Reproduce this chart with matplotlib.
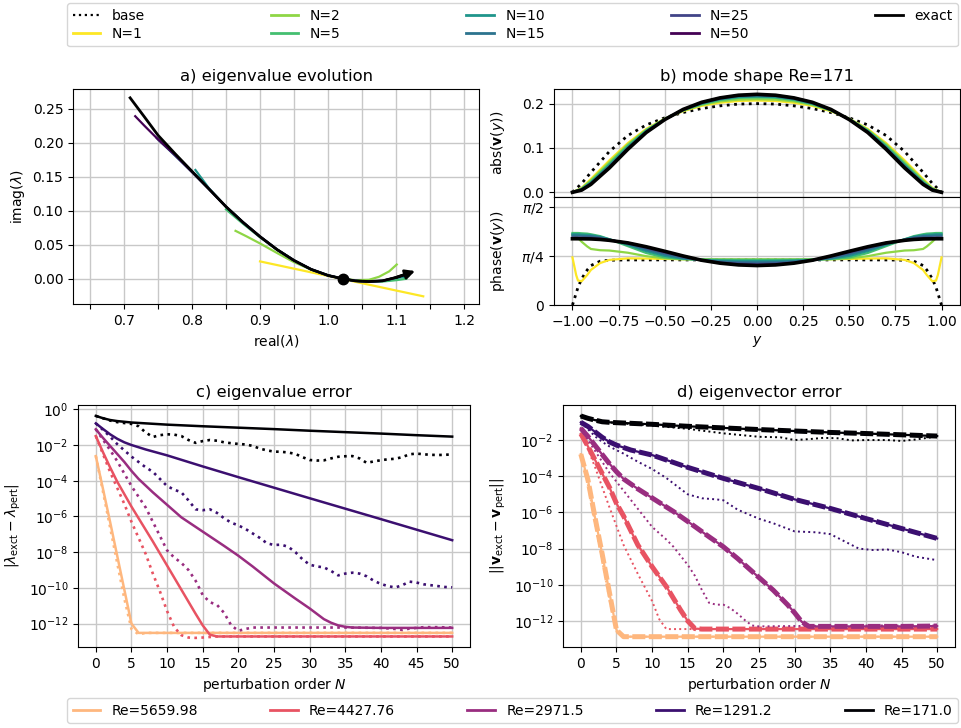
import numpy as np
import matplotlib
matplotlib.use("Agg")
import matplotlib.pyplot as plt
from matplotlib.lines import Line2D
from matplotlib.ticker import NullLocator, FixedLocator

plt.rcParams['font.family'] = ['DejaVu Sans']
plt.rcParams['font.size'] = 10
plt.rcParams['mathtext.fontset'] = 'dejavusans'

# ---------------- legend / colour data ----------------
N_orders = [1, 2, 5, 10, 15, 25, 50]
N_cpos = [1.0, 0.83, 0.7, 0.52, 0.38, 0.2, 0.0]
Re_values = [5659.98, 4427.76, 2971.5, 1291.2, 171.0]
Re_cpos = [0.85, 0.63, 0.43, 0.2, 0.0]

# ---------------- panel a: eigenvalue evolution ----------------
exact_re = [0.709, 0.73, 0.75, 0.775, 0.80, 0.825, 0.85, 0.875, 0.90, 0.925, 0.95, 0.975, 1.0, 1.022, 1.04, 1.06, 1.08, 1.10, 1.112]
exact_im = [0.266, 0.238, 0.211, 0.184, 0.158, 0.132, 0.106, 0.083, 0.062, 0.043, 0.027, 0.014, 0.005, 0.0, -0.003, -0.004, -0.003, 0.002, 0.006]
arrow_tail = (1.100, 0.0020)
arrow_head = (1.128, 0.0115)
base_re = 1.022
base_im = 0.0

a_N1_re = [0.90, 1.14]
a_N1_im = [0.0256, -0.0257]
a_N2_re = [0.864, 0.88, 0.90, 0.925, 0.95, 0.975, 1.0, 1.022, 1.04, 1.06, 1.075, 1.09, 1.101]
a_N2_im = [0.0705, 0.0625, 0.052, 0.038, 0.0245, 0.0135, 0.005, 0.0, -0.002, -0.0015, 0.003, 0.011, 0.021]
a_N5_re = [0.85, 0.875, 0.90, 0.925, 0.95, 0.975, 1.0, 1.022, 1.04, 1.06, 1.08, 1.10, 1.115]
a_N5_im = [0.102, 0.081, 0.061, 0.043, 0.027, 0.014, 0.005, 0.0, -0.003, -0.004, -0.004, -0.002, 0.0]
a_N10_re = [0.805, 0.825, 0.85, 0.875, 0.90, 0.925, 0.95, 0.975, 1.0, 1.022, 1.04, 1.06, 1.08, 1.10, 1.118]
a_N10_im = [0.160, 0.133, 0.106, 0.083, 0.062, 0.043, 0.027, 0.014, 0.005, 0.0, -0.003, -0.004, -0.003, 0.001, 0.004]
a_N15_re = [0.75, 0.775, 0.80, 0.825, 0.85, 0.875, 0.90, 0.925, 0.95, 0.975, 1.0, 1.022, 1.04, 1.06, 1.08, 1.10, 1.12]
a_N15_im = [0.205, 0.181, 0.157, 0.132, 0.106, 0.083, 0.062, 0.043, 0.027, 0.014, 0.005, 0.0, -0.003, -0.004, -0.003, 0.002, 0.007]
a_N25_re = [0.748, 0.775, 0.80, 0.825, 0.85, 0.875, 0.90, 0.925, 0.95, 0.975, 1.0, 1.022, 1.04, 1.06, 1.08, 1.10, 1.12]
a_N25_im = [0.207, 0.182, 0.157, 0.132, 0.106, 0.083, 0.062, 0.043, 0.027, 0.014, 0.005, 0.0, -0.003, -0.004, -0.003, 0.002, 0.008]
a_N50_re = [0.7165, 0.73, 0.75, 0.775, 0.80, 0.825, 0.85, 0.875, 0.90, 0.925, 0.95, 0.975, 1.0, 1.022, 1.04, 1.06, 1.08, 1.10, 1.12]
a_N50_im = [0.239, 0.225, 0.205, 0.182, 0.157, 0.132, 0.106, 0.083, 0.062, 0.043, 0.027, 0.014, 0.005, 0.0, -0.003, -0.004, -0.003, 0.002, 0.008]

# ---------------- panel b: mode shape ----------------
y_abs = [-1.0, -0.95, -0.9, -0.8, -0.7, -0.6, -0.5, -0.4, -0.3, -0.2, -0.1, 0.0, 0.1, 0.2, 0.3, 0.4, 0.5, 0.6, 0.7, 0.8, 0.9, 0.95, 1.0]
abs_base = [0.000, 0.020, 0.045, 0.092, 0.128, 0.152, 0.168, 0.180, 0.189, 0.195, 0.199, 0.200, 0.199, 0.195, 0.189, 0.180, 0.168, 0.152, 0.128, 0.092, 0.045, 0.020, 0.000]
abs_N1 = [0.000, 0.010, 0.030, 0.072, 0.111, 0.143, 0.166, 0.183, 0.195, 0.202, 0.206, 0.207, 0.206, 0.202, 0.195, 0.183, 0.166, 0.143, 0.111, 0.072, 0.030, 0.010, 0.000]
abs_N2 = [0.000, 0.009, 0.027, 0.068, 0.108, 0.141, 0.166, 0.184, 0.197, 0.205, 0.209, 0.210, 0.209, 0.205, 0.197, 0.184, 0.166, 0.141, 0.108, 0.068, 0.027, 0.009, 0.000]
abs_N5 = [0.000, 0.008, 0.024, 0.064, 0.105, 0.140, 0.165, 0.185, 0.199, 0.208, 0.213, 0.214, 0.213, 0.208, 0.199, 0.185, 0.165, 0.140, 0.105, 0.064, 0.024, 0.008, 0.000]
abs_N10 = [0.000, 0.007, 0.022, 0.061, 0.102, 0.138, 0.165, 0.186, 0.200, 0.210, 0.215, 0.216, 0.215, 0.210, 0.200, 0.186, 0.165, 0.138, 0.102, 0.061, 0.022, 0.007, 0.000]
abs_N15 = [0.000, 0.006, 0.021, 0.059, 0.100, 0.137, 0.165, 0.186, 0.201, 0.211, 0.217, 0.218, 0.217, 0.211, 0.201, 0.186, 0.165, 0.137, 0.100, 0.059, 0.021, 0.006, 0.000]
abs_N25 = [0.000, 0.006, 0.019, 0.057, 0.099, 0.136, 0.164, 0.186, 0.202, 0.212, 0.218, 0.220, 0.218, 0.212, 0.202, 0.186, 0.164, 0.136, 0.099, 0.057, 0.019, 0.006, 0.000]
abs_N50 = [0.000, 0.005, 0.018, 0.056, 0.098, 0.135, 0.164, 0.187, 0.203, 0.213, 0.219, 0.220, 0.219, 0.213, 0.203, 0.187, 0.164, 0.135, 0.098, 0.056, 0.018, 0.005, 0.000]
abs_exact = [0.000, 0.005, 0.018, 0.055, 0.097, 0.135, 0.164, 0.187, 0.203, 0.213, 0.219, 0.221, 0.219, 0.213, 0.203, 0.187, 0.164, 0.135, 0.097, 0.055, 0.018, 0.005, 0.000]

y_ph = [-1.0, -0.99, -0.98, -0.97, -0.95, -0.92, -0.9, -0.85, -0.8, -0.7, -0.6, -0.5, -0.4, -0.3, -0.2, -0.1, 0.0,
        0.1, 0.2, 0.3, 0.4, 0.5, 0.6, 0.7, 0.8, 0.85, 0.9, 0.92, 0.95, 0.97, 0.98, 0.99, 1.0]
ph_base = [0.0, 0.09, 0.19, 0.28, 0.42, 0.56, 0.63, 0.70, 0.715, 0.72, 0.72, 0.72, 0.72, 0.72, 0.72, 0.72, 0.72, 0.72, 0.72, 0.72, 0.72, 0.72, 0.72, 0.72, 0.715, 0.70, 0.63, 0.56, 0.42, 0.28, 0.19, 0.09, 0.0]
ph_N1 = [0.76, 0.62, 0.48, 0.39, 0.38, 0.48, 0.56, 0.67, 0.72, 0.745, 0.742, 0.736, 0.732, 0.73, 0.728, 0.727, 0.727, 0.727, 0.728, 0.73, 0.732, 0.736, 0.742, 0.745, 0.72, 0.67, 0.56, 0.48, 0.38, 0.39, 0.48, 0.62, 0.76]
ph_N2 = [1.12, 1.11, 1.10, 1.07, 1.01, 0.935, 0.895, 0.875, 0.87, 0.835, 0.78, 0.745, 0.73, 0.726, 0.725, 0.725, 0.725, 0.725, 0.725, 0.726, 0.73, 0.745, 0.78, 0.835, 0.87, 0.875, 0.895, 0.935, 1.01, 1.07, 1.10, 1.11, 1.12]
ph_N5 = [1.15, 1.15, 1.15, 1.15, 1.145, 1.14, 1.13, 1.10, 1.05, 0.94, 0.83, 0.76, 0.735, 0.728, 0.725, 0.724, 0.724, 0.724, 0.725, 0.728, 0.735, 0.76, 0.83, 0.94, 1.05, 1.10, 1.13, 1.14, 1.145, 1.15, 1.15, 1.15, 1.15]
ph_N10 = [1.13, 1.13, 1.13, 1.13, 1.125, 1.12, 1.115, 1.09, 1.05, 0.96, 0.86, 0.785, 0.74, 0.72, 0.71, 0.705, 0.703, 0.705, 0.71, 0.72, 0.74, 0.785, 0.86, 0.96, 1.05, 1.09, 1.115, 1.12, 1.125, 1.13, 1.13, 1.13, 1.13]
ph_N15 = [1.11, 1.11, 1.11, 1.11, 1.105, 1.10, 1.10, 1.08, 1.045, 0.975, 0.885, 0.81, 0.75, 0.715, 0.695, 0.685, 0.682, 0.685, 0.695, 0.715, 0.75, 0.81, 0.885, 0.975, 1.045, 1.08, 1.10, 1.10, 1.105, 1.11, 1.11, 1.11, 1.11]
ph_N25 = [1.08, 1.08, 1.08, 1.08, 1.078, 1.076, 1.075, 1.06, 1.04, 0.985, 0.91, 0.835, 0.77, 0.715, 0.68, 0.662, 0.656, 0.662, 0.68, 0.715, 0.77, 0.835, 0.91, 0.985, 1.04, 1.06, 1.075, 1.076, 1.078, 1.08, 1.08, 1.08, 1.08]
ph_N50 = [1.062, 1.062, 1.062, 1.062, 1.061, 1.06, 1.058, 1.05, 1.035, 0.993, 0.928, 0.855, 0.782, 0.716, 0.672, 0.645, 0.637, 0.645, 0.672, 0.716, 0.782, 0.855, 0.928, 0.993, 1.035, 1.05, 1.058, 1.06, 1.061, 1.062, 1.062, 1.062, 1.062]
ph_exact = [1.058, 1.058, 1.058, 1.058, 1.057, 1.056, 1.055, 1.047, 1.033, 0.992, 0.93, 0.858, 0.783, 0.715, 0.668, 0.64, 0.63, 0.64, 0.668, 0.715, 0.783, 0.858, 0.93, 0.992, 1.033, 1.047, 1.055, 1.056, 1.057, 1.058, 1.058, 1.058, 1.058]

# ---------------- panel c: eigenvalue error (log10 of error) ----------------
c_sol_5660_N = [0, 1, 2, 3, 4, 5, 6, 50]
c_sol_5660 = [-2.62, -4.45, -6.3, -8.2, -10.1, -12.0, -12.52, -12.52]
c_dot_5660_N = [0, 1, 2, 3, 4, 5, 6, 7, 50]
c_dot_5660 = [-2.62, -4.6, -6.6, -8.6, -10.6, -12.3, -12.6, -12.52, -12.52]
c_sol_4428_N = [0, 1, 2, 3, 4, 5, 6, 8, 10, 12, 14, 15, 16, 17, 50]
c_sol_4428 = [-1.5, -2.4, -3.25, -4.05, -4.75, -5.45, -6.1, -7.4, -8.75, -10.1, -11.45, -12.1, -12.62, -12.72, -12.72]
c_dot_4428_N = [0, 1, 2, 3, 4, 5, 6, 7, 8, 9, 10, 11, 12, 13, 14, 15, 16, 17, 50]
c_dot_4428 = [-1.5, -2.5, -3.5, -4.4, -5.3, -6.3, -7.2, -8.1, -9.2, -10.2, -11.3, -12.2, -12.65, -12.78, -12.8, -12.78, -12.75, -12.72, -12.72]
c_sol_2972_N = [0, 1, 2, 3, 4, 5, 6, 8, 10, 12, 15, 18, 20, 22, 25, 28, 30, 32, 33, 34, 35, 36, 40, 45, 50]
c_sol_2972 = [-1.12, -1.6, -2.05, -2.5, -2.95, -3.45, -3.9, -4.65, -5.35, -6.05, -6.85, -7.65, -8.2, -8.8, -9.75, -10.6, -11.15, -11.75, -11.95, -12.1, -12.18, -12.22, -12.24, -12.24, -12.24]
c_dot_2972_N = [0, 1, 2, 3, 4, 5, 6, 7, 8, 9, 10, 11, 12, 13, 14, 15, 16, 17, 18, 19, 20, 21, 22, 25, 30, 35, 40, 42, 43, 44, 46, 48, 50]
c_dot_2972 = [-1.12, -1.7, -2.28, -2.9, -3.6, -4.3, -4.9, -5.5, -6.3, -7.1, -7.9, -8.3, -8.6, -9.0, -9.6, -10.4, -10.8, -10.95, -11.4, -12.1, -12.4, -12.3, -12.22, -12.22, -12.22, -12.22, -12.24, -12.3, -12.35, -12.28, -12.2, -12.2, -12.22]
c_sol_1291_N = [0, 1, 2, 3, 4, 5, 7, 10, 15, 20, 30, 40, 50]
c_sol_1291 = [-0.79, -1.1, -1.4, -1.65, -1.85, -2.0, -2.25, -2.58, -3.2, -3.8, -4.98, -6.15, -7.33]
c_dot_1291_N = list(range(0, 51))
c_dot_1291 = [-0.79, -1.15, -1.53, -1.95, -2.3, -2.65, -2.95, -3.25, -3.5, -3.9, -4.3, -4.5, -4.65, -5.1, -5.6, -5.65, -5.6, -5.8, -6.1, -6.35,
              -6.5, -6.7, -6.95, -7.2, -7.5, -7.6, -7.58, -7.7, -8.0, -8.4, -8.7, -8.8, -8.85, -9.05, -9.3, -9.2, -9.15, -9.2, -9.35, -9.6,
              -9.78, -9.9, -9.98, -9.85, -9.65, -9.7, -9.8, -9.85, -9.9, -9.95, -9.97]
c_sol_171_N = [0, 1, 2, 3, 5, 10, 15, 20, 25, 30, 35, 40, 45, 50]
c_sol_171 = [-0.37, -0.5, -0.6, -0.66, -0.74, -0.86, -0.95, -1.03, -1.11, -1.2, -1.28, -1.36, -1.45, -1.53]
c_dot_171_N = list(range(0, 51))
c_dot_171 = [-0.37, -0.5, -0.63, -0.72, -0.77, -0.82, -0.95, -1.3, -1.55, -1.45, -1.40, -1.42, -1.5, -1.72, -1.88, -1.78, -1.72, -1.76, -1.85, -1.9,
             -1.94, -1.97, -2.05, -2.2, -2.3, -2.37, -2.38, -2.42, -2.5, -2.68, -2.84, -2.87, -2.86, -2.75, -2.66, -2.63, -2.62, -2.75, -3.0, -2.92,
             -2.85, -2.8, -2.77, -2.68, -2.52, -2.48, -2.52, -2.55, -2.56, -2.55, -2.52]

# ---------------- panel d: eigenvector error (log10 of error) ----------------
d_sol_5660_N = [0, 1, 2, 3, 4, 5, 6, 50]
d_sol_5660 = [-2.78, -4.2, -6.3, -8.3, -10.4, -12.5, -12.87, -12.87]
d_dot_5660_N = [0, 1, 2, 3, 4, 5, 6, 50]
d_dot_5660 = [-2.78, -4.5, -6.6, -8.7, -10.8, -12.6, -12.87, -12.87]
d_sol_4428_N = [0, 1, 2, 3, 4, 5, 6, 8, 10, 12, 14, 15, 16, 17, 50]
d_sol_4428 = [-1.65, -2.35, -3.1, -3.85, -4.6, -5.5, -6.2, -7.8, -9.0, -10.1, -11.4, -12.0, -12.42, -12.45, -12.45]
d_dot_4428_N = [0, 1, 2, 3, 4, 5, 6, 7, 8, 9, 10, 11, 12, 13, 50]
d_dot_4428 = [-1.65, -2.5, -3.5, -4.6, -5.7, -6.75, -7.8, -8.6, -9.4, -10.15, -10.9, -11.9, -12.45, -12.45, -12.42]
d_sol_2972_N = [0, 1, 2, 3, 4, 5, 6, 8, 10, 13, 15, 18, 20, 22, 25, 27, 29, 30, 31, 32, 35, 40, 45, 50]
d_sol_2972 = [-1.35, -1.8, -2.3, -2.8, -3.3, -3.75, -4.15, -4.7, -5.2, -5.95, -6.5, -7.35, -7.9, -8.55, -9.6, -10.3, -11.1, -11.55, -12.05, -12.3, -12.3, -12.3, -12.3, -12.28]
d_dot_2972_N = [0, 1, 2, 3, 4, 5, 6, 8, 10, 12, 13, 15, 16, 17, 18, 19, 20, 21, 22, 23, 24, 25, 30, 40, 50]
d_dot_2972 = [-1.35, -2.0, -2.6, -3.2, -3.8, -4.3, -4.8, -5.8, -6.8, -7.5, -7.9, -8.9, -9.5, -10.3, -11.0, -11.1, -11.1, -11.3, -11.6, -11.95, -12.25, -12.3, -12.28, -12.25, -12.25]
d_sol_1291_N = [0, 1, 2, 3, 4, 5, 7, 10, 15, 20, 25, 30, 35, 40, 45, 50]
d_sol_1291 = [-1.02, -1.25, -1.55, -1.85, -2.1, -2.28, -2.55, -2.83, -3.51, -4.12, -4.68, -5.28, -5.78, -6.34, -6.89, -7.44]
d_dot_1291_N = [0, 1, 2, 3, 4, 5, 6, 8, 10, 12, 13, 15, 17, 19, 20, 22, 25, 27, 30, 33, 35, 37, 39, 41, 43, 45, 47, 50]
d_dot_1291 = [-1.02, -1.4, -1.8, -2.1, -2.35, -2.56, -2.75, -3.2, -3.6, -4.1, -4.4, -5.0, -5.22, -5.28, -5.33, -5.85, -6.35, -6.6, -7.05, -7.1, -7.2, -7.6, -8.0, -8.08, -8.05, -8.2, -8.45, -8.64]
d_sol_171_N = [0, 1, 2, 3, 4, 5, 10, 15, 20, 25, 30, 35, 40, 45, 50]
d_sol_171 = [-0.67, -0.8, -0.9, -0.99, -1.02, -1.04, -1.13, -1.24, -1.33, -1.42, -1.5, -1.58, -1.64, -1.71, -1.78]
d_dot_171_N = [0, 3, 5, 10, 15, 20, 25, 28, 30, 32, 34, 36, 38, 40, 43, 45, 47, 50]
d_dot_171 = [-0.67, -0.99, -1.06, -1.2, -1.38, -1.63, -1.82, -1.85, -2.0, -1.95, -1.88, -1.9, -2.02, -2.0, -2.0, -2.05, -1.97, -1.8]

# ---------------- figure ----------------
fig = plt.figure(figsize=(9.61, 7.28), dpi=100)
W, H = 961.0, 728.0

def rect(l, t, r, b):
    return [l / W, 1 - b / H, (r - l) / W, (b - t) / H]

GRID = dict(color='#c8c8c8', lw=1.0)
N_colors = [plt.cm.viridis(p) for p in N_cpos]
Re_colors = [plt.cm.magma(p) for p in Re_cpos]

# ---- panel a
axa = fig.add_axes(rect(73, 89, 479, 304))
axa.grid(True, **GRID)
a_re = [a_N1_re, a_N2_re, a_N5_re, a_N10_re, a_N15_re, a_N25_re, a_N50_re]
a_im = [a_N1_im, a_N2_im, a_N5_im, a_N10_im, a_N15_im, a_N25_im, a_N50_im]
for xs, ys, c in zip(a_re, a_im, N_colors):
    axa.plot(xs, ys, color=c, lw=1.6)
axa.plot(exact_re, exact_im, color='k', lw=2.0)
axa.annotate('', xy=arrow_head, xytext=arrow_tail,
             arrowprops=dict(arrowstyle='-|>', color='k', lw=2.0, mutation_scale=14, shrinkA=0, shrinkB=0))
axa.plot([base_re], [base_im], 'o', color='k', ms=7.5, zorder=5)
axa.set_xlim(0.625, 1.222)
axa.set_ylim(-0.037, 0.279)
xt = [0.65, 0.70, 0.75, 0.80, 0.85, 0.90, 0.95, 1.00, 1.05, 1.10, 1.15, 1.20]
axa.set_xticks(xt)
axa.set_xticklabels(['' if i % 2 == 0 else f'{v:.1f}' for i, v in enumerate(xt)])
axa.set_yticks([0.0, 0.05, 0.10, 0.15, 0.20, 0.25])
axa.set_xlabel(r'real($\lambda$)')
axa.set_ylabel(r'imag($\lambda$)')
axa.set_title('a) eigenvalue evolution', fontsize=11.8)

# ---- panel b
axb1 = fig.add_axes(rect(554, 89, 960, 197))
axb2 = fig.add_axes(rect(554, 197, 960, 305), sharex=axb1)
abs_list = [abs_N1, abs_N2, abs_N5, abs_N10, abs_N15, abs_N25, abs_N50]
ph_list = [ph_N1, ph_N2, ph_N5, ph_N10, ph_N15, ph_N25, ph_N50]
for ax in (axb1, axb2):
    ax.grid(True, **GRID)
axb1.plot(y_abs, abs_base, color='k', ls=':', lw=2.0)
axb2.plot(y_ph, ph_base, color='k', ls=':', lw=2.0)
for av, pv, c in zip(abs_list, ph_list, N_colors):
    axb1.plot(y_abs, av, color=c, lw=1.6)
    axb2.plot(y_ph, pv, color=c, lw=1.6)
axb1.plot(y_abs, abs_exact, color='k', lw=2.6)
axb2.plot(y_ph, ph_exact, color='k', lw=2.6)
axb1.set_xlim(-1.1, 1.1)
axb1.set_ylim(-0.0106, 0.233)
axb1.set_yticks([0.0, 0.1, 0.2])
axb1.tick_params(axis='x', labelbottom=False, length=0)
axb2.set_xticks([-1.0, -0.75, -0.5, -0.25, 0.0, 0.25, 0.5, 0.75, 1.0])
axb2.set_xticklabels(['−1.00', '−0.75', '−0.50', '−0.25', '0.00', '0.25', '0.50', '0.75', '1.00'])
axb2.set_ylim(0, 1.725)
axb2.set_yticks([0, np.pi / 4, np.pi / 2])
axb2.set_yticklabels(['0', r'$\pi/4$', r'$\pi/2$'])
axb1.set_ylabel(r'abs($\mathbf{v}(y)$)')
axb2.set_ylabel(r'phase($\mathbf{v}(y)$)')
axb1.yaxis.set_label_coords(-0.115, 0.5)
axb2.yaxis.set_label_coords(-0.115, 0.5)
axb2.set_xlabel(r'$y$')
axb1.set_title('b) mode shape Re=171', fontsize=11.8)

# ---- panel c
axc = fig.add_axes(rect(78, 405, 470, 647))
axc.grid(True, **GRID)
c_sets = [(c_sol_5660_N, c_sol_5660, c_dot_5660_N, c_dot_5660),
          (c_sol_4428_N, c_sol_4428, c_dot_4428_N, c_dot_4428),
          (c_sol_2972_N, c_sol_2972, c_dot_2972_N, c_dot_2972),
          (c_sol_1291_N, c_sol_1291, c_dot_1291_N, c_dot_1291),
          (c_sol_171_N, c_sol_171, c_dot_171_N, c_dot_171)]
for (sn, sv, dn, dv), col in zip(c_sets, Re_colors):
    axc.semilogy(sn, 10.0 ** np.array(sv), color=col, lw=1.8)
    axc.semilogy(dn, 10.0 ** np.array(dv), color=col, lw=1.9, ls=':')
axc.set_xlim(-2.5, 52.5)
axc.set_ylim(10 ** -13.31, 10 ** 0.24)
axc.yaxis.set_major_locator(FixedLocator([10.0 ** k for k in range(0, -13, -2)]))
axc.yaxis.set_minor_locator(NullLocator())
axc.set_xticks(range(0, 51, 5))
axc.set_xlabel(r'perturbation order $N$')
axc.set_ylabel(r'$|\lambda_\mathrm{exct} - \lambda_\mathrm{pert}|$')
axc.set_title('c) eigenvalue error', fontsize=11.8)

# ---- panel d
axd = fig.add_axes(rect(563, 405, 955, 647))
axd.grid(True, **GRID)
d_sets = [(d_sol_5660_N, d_sol_5660, d_dot_5660_N, d_dot_5660),
          (d_sol_4428_N, d_sol_4428, d_dot_4428_N, d_dot_4428),
          (d_sol_2972_N, d_sol_2972, d_dot_2972_N, d_dot_2972),
          (d_sol_1291_N, d_sol_1291, d_dot_1291_N, d_dot_1291),
          (d_sol_171_N, d_sol_171, d_dot_171_N, d_dot_171)]
for (sn, sv, dn, dv), col in zip(d_sets, Re_colors):
    axd.semilogy(sn, 10.0 ** np.array(sv), color=col, lw=1.6)
    axd.semilogy(sn, 10.0 ** np.array(sv), color=col, lw=3.6, ls=(0, (2.6, 0.7)))
    axd.semilogy(dn, 10.0 ** np.array(dv), color=col, lw=1.4, ls=':')
axd.set_xlim(-2.5, 52.5)
axd.set_ylim(10 ** -13.44, 10 ** -0.063)
axd.yaxis.set_major_locator(FixedLocator([10.0 ** k for k in range(-2, -13, -2)]))
axd.yaxis.set_minor_locator(NullLocator())
axd.set_xticks(range(0, 51, 5))
axd.set_xlabel(r'perturbation order $N$')
axd.set_ylabel(r'$||\mathbf{v}_\mathrm{exct} - \mathbf{v}_\mathrm{pert}||$')
axd.set_title('d) eigenvector error', fontsize=11.8)

# ---- legends
top_handles = [Line2D([], [], color='k', ls=':', lw=1.6)]
top_labels = ['base']
for n, c in zip(N_orders, N_colors):
    top_handles.append(Line2D([], [], color=c, lw=2.0))
    top_labels.append(f'N={n}')
top_handles.append(Line2D([], [], color='k', lw=2.0))
top_labels.append('exact')
fig.legend(top_handles, top_labels, loc='upper left', ncol=5, mode='expand',
           bbox_to_anchor=(67 / W, 1 - 3 / H, 891 / W, 0), borderaxespad=0,
           fontsize=10, labelspacing=0.3)

bot_handles = [Line2D([], [], color=c, lw=2.0) for c in Re_colors]
bot_labels = [f'Re={r}' for r in Re_values]
fig.legend(bot_handles, bot_labels, loc='upper left', ncol=5, mode='expand',
           bbox_to_anchor=(67 / W, 1 - 698 / H, 891 / W, 0), borderaxespad=0,
           fontsize=10)

fig.savefig('out.png', dpi=100)
